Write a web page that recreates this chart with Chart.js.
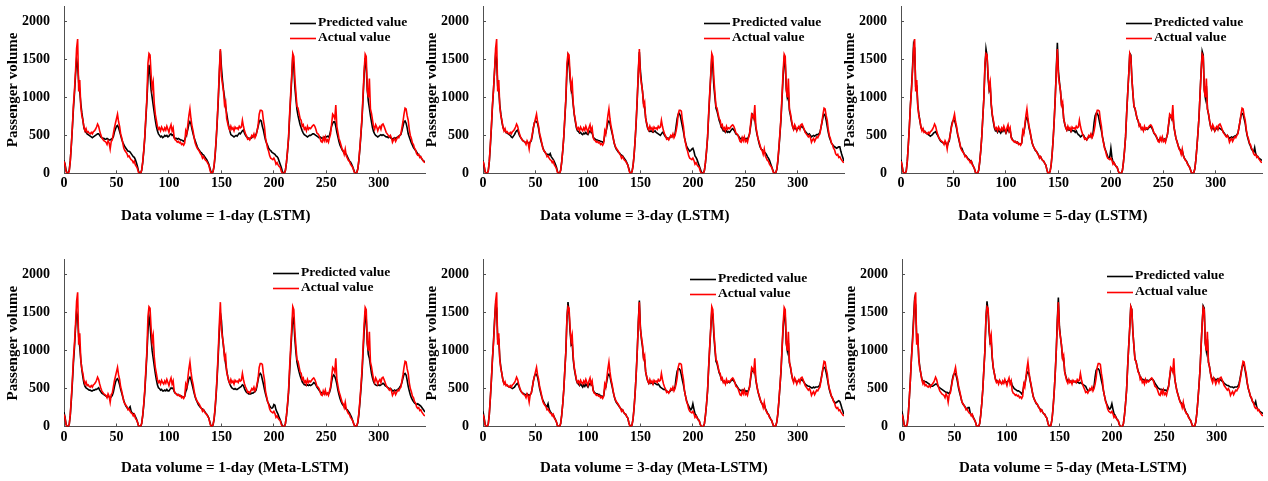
<!DOCTYPE html>
<html>
<head>
<meta charset="utf-8">
<script src="https://cdn.jsdelivr.net/npm/chart.js@4.4.1/dist/chart.umd.min.js"></script>
<style>
  body { margin: 0; background: #fff; width: 1268px; height: 481px; position: relative; overflow: hidden; }
  canvas { position: absolute; }
</style>
</head>
<body>
<canvas id="c1" width="430" height="230" style="left:0px;top:0px"></canvas>
<canvas id="c2" width="430" height="230" style="left:419px;top:0px"></canvas>
<canvas id="c3" width="430" height="230" style="left:837px;top:0px"></canvas>
<canvas id="c4" width="430" height="230" style="left:0px;top:250px"></canvas>
<canvas id="c5" width="430" height="230" style="left:419px;top:250px"></canvas>
<canvas id="c6" width="430" height="230" style="left:838px;top:250px"></canvas>
<script>
// observed passenger volume (same in every panel)
const actual = [
  160,110,20,0,0,30,160,380,620,900,
  1100,1350,1650,1770,1080,1230,880,760,700,610,
  560,590,540,550,530,520,540,520,550,560,
  580,610,650,620,560,510,470,450,430,420,
  410,380,430,400,320,420,440,520,600,660,
  720,780,680,620,520,470,400,330,300,280,
  260,220,230,200,180,170,140,160,110,90,
  60,10,0,0,40,150,300,490,750,1000,
  1450,1580,1560,1300,1120,1200,920,780,700,620,
  580,600,560,610,580,560,600,570,620,580,
  540,600,640,560,600,470,440,430,410,420,
  400,410,380,390,370,400,560,520,640,760,
  850,720,620,560,470,400,360,330,310,290,
  260,240,200,220,190,170,160,130,110,50,
  0,0,20,100,250,450,700,1000,1350,1640,
  1280,1180,1080,900,940,720,660,600,570,620,
  580,600,560,610,590,600,580,620,600,610,
  700,620,560,520,490,450,460,440,470,500,
  480,520,470,500,560,640,780,830,830,820,
  700,620,470,400,330,290,230,200,190,180,
  200,170,120,140,110,90,80,30,0,0,
  0,40,150,300,480,780,1050,1300,1580,1540,
  1250,1060,880,860,790,720,700,620,640,580,
  600,560,620,580,600,590,610,630,640,620,
  580,530,520,500,460,420,410,470,430,480,
  420,440,410,470,520,650,780,760,720,900,
  620,540,460,420,370,320,300,250,320,230,
  200,170,160,120,100,80,40,0,0,10,
  60,180,350,540,750,1050,1350,1570,1540,1100,
  1000,1250,850,790,700,620,580,640,610,560,
  600,620,580,640,650,620,580,540,520,500,
  480,500,470,410,440,460,420,450,480,470,
  500,520,600,680,780,860,850,760,700,580,
  500,460,400,380,330,310,260,240,250,210,
  220,190,170,150,140
];

const predLstm1 = [
  170,120,40,0,0,40,170,370,600,860,
  1060,1300,1500,1420,1200,1080,920,800,700,600,
  560,540,520,510,500,490,480,470,480,490,
  500,510,520,520,500,480,470,460,460,450,
  450,460,450,440,440,450,460,480,540,580,
  620,630,600,550,500,450,410,380,350,330,
  310,290,290,280,260,240,220,210,180,140,
  90,30,0,0,40,140,290,470,720,960,
  1250,1430,1300,1100,1000,900,800,700,620,560,
  520,500,480,490,470,480,500,490,500,480,
  490,510,520,500,510,470,460,460,450,460,
  450,440,440,430,420,440,480,520,580,650,
  680,650,580,520,470,430,390,350,320,300,
  280,270,250,240,220,200,180,150,120,70,
  20,0,20,90,230,430,680,960,1300,1620,
  1400,1230,1100,1000,880,790,700,620,560,510,
  500,490,480,490,500,490,510,530,520,540,
  560,570,530,500,480,470,460,460,460,470,
  480,490,500,510,560,620,680,700,690,620,
  570,500,440,400,370,330,310,300,280,270,
  260,250,230,220,200,160,120,80,30,0,
  0,40,140,290,460,740,1000,1250,1540,1400,
  1140,980,840,760,700,640,600,560,530,510,
  500,490,480,490,500,500,510,520,520,510,
  500,490,480,470,480,470,460,470,480,470,
  480,490,480,500,560,620,660,680,680,620,
  540,480,420,370,340,310,290,270,260,250,
  220,190,160,150,120,90,50,10,0,10,
  60,170,330,520,720,1000,1300,1520,1400,1100,
  950,860,760,680,600,550,520,500,490,480,
  490,500,510,500,510,500,490,480,480,470,
  480,470,460,450,460,470,460,470,480,490,
  500,510,560,620,680,690,660,600,520,480,
  440,400,370,340,320,300,280,260,240,230,
  210,190,170,160,150
];

const predLstm3 = [
  170,100,20,0,0,30,150,360,600,880,
  1100,1350,1560,1500,1150,1100,900,780,680,610,
  570,560,540,530,520,510,500,480,470,490,
  510,540,560,570,530,490,470,450,430,420,
  410,400,410,400,390,410,430,500,600,670,
  690,680,660,590,500,440,390,340,300,280,
  260,250,250,240,260,220,200,180,150,120,
  80,20,0,0,40,150,300,480,730,980,
  1350,1530,1450,1250,1100,1050,900,770,680,600,
  560,550,530,540,520,510,530,520,540,520,
  510,540,560,540,530,480,460,450,440,440,
  430,430,420,420,410,420,500,530,600,670,
  690,660,590,530,470,400,350,320,300,280,
  270,250,240,230,210,190,170,140,110,60,
  10,0,20,100,240,440,680,980,1320,1600,
  1350,1200,1080,920,870,730,650,590,560,550,
  560,550,540,550,560,540,530,520,510,500,
  520,540,530,500,480,470,460,460,470,490,
  480,500,490,520,620,720,780,790,760,690,
  620,550,470,410,360,330,310,290,300,320,
  330,290,230,210,180,140,100,60,20,0,
  0,40,140,290,470,750,1020,1270,1520,1400,
  1150,1000,860,820,760,700,660,610,590,560,
  560,540,560,540,550,540,560,580,590,570,
  550,520,510,500,480,460,450,470,460,470,
  450,460,450,480,520,620,720,770,740,720,
  600,520,460,400,350,320,310,290,280,270,
  250,220,200,170,130,90,50,10,0,10,
  50,160,330,520,720,1000,1280,1500,1450,1120,
  1000,1050,830,760,680,620,580,600,590,570,
  590,600,590,610,620,600,580,550,540,520,
  510,520,500,480,490,500,490,500,510,510,
  520,540,600,670,740,780,770,700,620,540,
  480,440,400,380,360,350,340,330,340,350,
  350,290,240,200,160
];

const predLstm5 = [
  180,100,20,0,0,30,160,380,620,900,
  1120,1400,1700,1650,1150,1150,900,780,690,610,
  570,580,550,550,530,520,510,500,490,500,
  510,530,540,550,520,500,470,440,420,410,
  400,390,410,390,360,400,430,520,620,680,
  700,700,650,590,510,450,390,330,330,290,
  260,240,230,210,190,180,160,160,120,90,
  60,10,0,0,40,150,300,490,750,1000,
  1400,1640,1550,1250,1100,1150,900,760,680,600,
  560,570,540,570,550,530,560,550,580,560,
  530,560,590,550,570,480,450,430,420,420,
  400,410,390,390,380,400,520,530,620,720,
  740,690,600,540,470,400,360,330,300,290,
  270,240,210,220,190,170,160,130,110,50,
  0,0,20,100,250,450,700,1000,1380,1720,
  1350,1200,1080,900,900,720,650,600,570,600,
  570,580,550,570,560,560,540,560,530,510,
  500,480,490,510,500,470,460,440,460,490,
  480,510,480,530,670,760,790,790,760,690,
  620,560,480,410,340,300,260,220,200,220,
  330,210,150,140,110,90,80,30,0,0,
  0,40,150,300,480,780,1050,1300,1580,1560,
  1250,1050,880,850,780,720,690,630,620,590,
  590,570,600,580,590,580,600,610,620,600,
  570,530,510,490,460,440,430,460,440,470,
  430,450,430,470,520,640,740,760,720,780,
  620,540,460,420,370,330,310,270,300,240,
  200,180,160,130,100,80,40,0,0,10,
  60,180,350,540,750,1050,1350,1610,1560,1100,
  1000,1150,850,780,690,620,580,610,590,560,
  580,600,580,600,590,580,570,550,530,510,
  490,500,480,460,470,480,470,480,490,490,
  510,530,600,680,760,790,780,720,660,560,
  490,440,390,360,320,300,280,340,260,230,
  220,200,190,180,170
];

const predMeta1 = [
  190,120,30,0,0,30,150,350,580,840,
  1050,1300,1510,1450,1180,1050,880,750,650,570,
  530,510,500,490,480,480,470,470,480,480,
  490,490,500,510,480,460,440,430,420,410,
  400,390,400,390,380,390,410,450,520,580,
  620,630,600,550,490,440,390,340,300,270,
  250,230,240,260,200,180,170,160,130,100,
  60,10,0,0,40,140,280,460,700,950,
  1250,1450,1350,1150,1000,900,800,700,620,550,
  510,500,480,490,470,470,480,470,490,470,
  470,490,510,500,510,460,440,430,420,420,
  410,400,400,390,380,400,460,500,570,630,
  650,620,560,500,440,390,350,320,290,270,
  250,240,230,220,200,180,160,140,110,60,
  10,0,20,90,230,420,660,940,1250,1500,
  1400,1180,1050,930,830,740,660,600,560,530,
  510,500,490,500,490,490,500,510,520,530,
  550,540,500,470,450,440,430,430,430,440,
  440,450,460,480,540,620,680,700,680,620,
  560,490,430,380,330,300,270,250,240,250,
  290,280,220,190,160,120,90,50,10,0,
  0,40,140,280,450,720,980,1220,1450,1400,
  1150,980,850,780,720,670,630,590,570,550,
  550,540,550,540,550,540,550,560,580,570,
  550,520,500,480,460,450,440,440,430,440,
  430,440,430,450,500,590,660,680,660,620,
  560,480,420,370,330,300,280,260,250,230,
  220,200,180,150,120,80,40,10,0,10,
  50,160,320,500,700,980,1250,1470,1420,1100,
  950,900,800,700,640,590,560,550,540,540,
  550,540,550,560,570,560,540,530,520,510,
  500,500,490,470,470,480,470,480,490,500,
  520,540,580,640,690,700,680,610,530,470,
  420,380,350,330,310,300,290,300,290,280,
  270,250,230,210,190
];

const predMeta3 = [
  200,120,30,0,0,30,160,370,610,880,
  1120,1400,1600,1560,1150,1150,900,780,690,610,
  570,560,550,540,530,520,520,510,500,510,
  520,540,560,570,540,500,470,450,440,430,
  420,420,430,420,410,420,440,510,600,660,
  690,690,650,580,500,440,390,350,320,290,
  270,260,300,230,200,180,160,150,120,90,
  60,10,0,0,40,150,300,490,750,1000,
  1420,1640,1500,1250,1080,1100,880,760,680,610,
  570,560,540,560,540,520,550,530,560,540,
  520,550,570,550,560,480,450,440,430,430,
  420,420,400,400,390,410,500,520,600,670,
  690,660,590,530,460,400,350,320,300,280,
  260,240,220,220,190,170,160,130,110,50,
  10,0,20,100,250,450,700,1000,1370,1660,
  1300,1150,1050,900,880,720,650,600,570,590,
  570,580,560,580,570,560,550,560,540,520,
  510,500,490,490,480,470,460,450,460,480,
  480,500,490,520,640,730,760,760,740,680,
  610,550,470,400,340,300,270,240,220,240,
  300,230,170,150,120,90,80,30,0,0,
  0,40,150,290,470,760,1030,1280,1520,1480,
  1200,1020,860,830,770,710,680,630,610,590,
  590,570,590,580,590,580,600,610,620,600,
  580,550,530,510,490,480,470,480,470,490,
  460,470,460,480,520,630,720,740,720,740,
  610,530,460,410,360,320,300,270,290,240,
  210,180,160,130,100,80,40,0,0,10,
  60,170,340,530,730,1020,1300,1470,1450,1100,
  1000,1100,840,780,690,630,600,620,600,580,
  590,610,600,610,620,600,580,560,550,540,
  530,530,520,510,510,520,510,520,520,520,
  530,550,610,690,760,780,770,710,640,560,
  490,440,400,370,340,320,310,320,330,340,
  330,290,240,200,160
];

const predMeta5 = [
  200,120,30,0,0,30,160,380,620,900,
  1150,1420,1670,1600,1150,1180,900,780,690,620,
  600,600,590,590,580,570,560,540,530,530,
  540,550,560,560,540,520,510,500,490,480,
  470,460,450,450,440,440,460,530,620,680,
  700,700,650,580,500,440,390,330,300,280,
  260,240,230,250,250,180,160,150,120,90,
  60,10,0,0,40,150,300,490,750,1000,
  1420,1650,1520,1250,1100,1120,900,770,700,630,
  600,600,580,600,580,570,590,580,600,590,
  580,600,610,590,600,540,520,500,490,480,
  470,470,460,450,430,450,530,550,630,700,
  720,690,610,540,470,400,360,330,300,290,
  260,240,220,220,190,170,160,130,110,50,
  10,0,20,100,250,450,700,1000,1400,1700,
  1320,1180,1060,900,900,730,670,620,600,610,
  590,600,580,600,590,590,580,590,580,570,
  580,570,560,550,540,530,500,480,470,480,
  490,500,490,530,650,740,760,760,740,680,
  610,550,470,400,340,300,270,240,230,250,
  300,230,170,150,120,90,80,30,0,0,
  0,40,150,300,480,780,1050,1300,1580,1540,
  1250,1060,890,860,790,730,700,650,640,620,
  620,600,620,600,610,600,610,620,630,620,
  600,570,550,530,510,500,490,490,480,490,
  480,480,470,490,530,640,740,760,740,760,
  620,540,470,420,370,330,310,280,300,250,
  210,180,160,130,100,80,40,0,0,10,
  60,180,350,540,750,1050,1350,1590,1560,1100,
  1000,1150,850,790,700,640,620,640,630,610,
  620,630,610,620,610,600,590,570,560,550,
  540,540,530,520,520,520,510,520,520,520,
  530,560,620,700,780,820,810,740,660,570,
  500,450,400,370,330,310,290,330,260,230,
  220,200,190,180,170
];

const panelTitles = [
  'Data volume = 1-day (LSTM)',
  'Data volume = 3-day (LSTM)',
  'Data volume = 5-day (LSTM)',
  'Data volume = 1-day (Meta-LSTM)',
  'Data volume = 3-day (Meta-LSTM)',
  'Data volume = 5-day (Meta-LSTM)'
];
const legendLabels = ['Predicted value', 'Actual value'];
const yTickValues = [0, 500, 1000, 1500, 2000];
const xTickValues = [0, 50, 100, 150, 200, 250, 300];
const steps = actual.map((v, i) => i);

const serif = "'Liberation Serif', 'DejaVu Serif', serif";
const axisColor = '#505050';

// legend + left-aligned axis caption, drawn inside each panel
const panelText = {
  id: 'panelText',
  afterDraw(chart, args, opts) {
    const ctx = chart.ctx;
    const area = chart.chartArea;
    ctx.save();
    ctx.font = 'bold 13.5px ' + serif;
    ctx.textBaseline = 'middle';
    ctx.textAlign = 'left';
    const rows = [chart.data.datasets[1], chart.data.datasets[0]];
    rows.forEach(function(ds, i) {
      const y = opts.legendY[i];
      ctx.strokeStyle = ds.borderColor;
      ctx.lineWidth = 1.6;
      ctx.beginPath();
      ctx.moveTo(opts.legendX, y + 0.5);
      ctx.lineTo(opts.legendX + 26, y + 0.5);
      ctx.stroke();
      ctx.fillStyle = '#000';
      ctx.fillText(ds.label, opts.legendX + 28, y);
    });
    ctx.font = 'bold 15px ' + serif;
    ctx.fillText(opts.caption, area.left + 57, opts.captionY);
    ctx.restore();
  }
};

function makeChart(canvasId, predicted, caption, box) {
  return new Chart(document.getElementById(canvasId), {
    type: 'line',
    data: {
      labels: steps,
      datasets: [
        { label: legendLabels[1], data: actual, borderColor: '#ff0000', borderWidth: 1.6, pointRadius: 0, tension: 0 },
        { label: legendLabels[0], data: predicted, borderColor: '#000000', borderWidth: 1.6, pointRadius: 0, tension: 0 }
      ]
    },
    plugins: [panelText],
    options: {
      responsive: false,
      animation: false,
      devicePixelRatio: 1,
      layout: { padding: { top: box.padTop, right: 5, bottom: 0, left: 0 } },
      plugins: {
        legend: { display: false },
        tooltip: { enabled: false },
        panelText: { legendX: box.legendX, legendY: box.legendY, caption: caption, captionY: box.captionY }
      },
      scales: {
        x: {
          type: 'linear',
          min: 0,
          max: 344,
          afterFit: function(s) { s.height = box.xHeight; s.paddingLeft = 0; s.paddingRight = 0; },
          afterBuildTicks: function(s) { s.ticks = xTickValues.map(function(v) { return { value: v }; }); },
          grid: { drawOnChartArea: false, drawTicks: true, tickLength: -3, color: axisColor },
          border: { color: axisColor, width: 1 },
          ticks: { font: { family: serif, size: 14, weight: 'bold' }, color: '#000', padding: 5, maxRotation: 0,
                   callback: function(v) { return String(v); } }
        },
        y: {
          min: 0,
          max: 2200,
          afterFit: function(s) { s.width = 64; s.paddingTop = 0; s.paddingBottom = 0; },
          afterBuildTicks: function(s) { s.ticks = yTickValues.map(function(v) { return { value: v }; }); },
          grid: { drawOnChartArea: false, drawTicks: true, tickLength: -3, color: axisColor },
          border: { color: axisColor, width: 1 },
          ticks: { font: { family: serif, size: 14, weight: 'bold' }, color: '#000', padding: 17,
                   callback: function(v) { return String(v); } },
          title: { display: true, text: 'Passenger volume', color: '#000',
                   font: { family: serif, size: 15, weight: 'bold' }, padding: { top: 4, bottom: 0 } }
        }
      }
    }
  });
}

const topBox = { padTop: 6.5, xHeight: 56.7, captionY: 216 };
const bottomBox = { padTop: 9.7, xHeight: 53.5, captionY: 218.5 };

makeChart('c1', predLstm1, panelTitles[0], Object.assign({ legendX: 290, legendY: [23, 38] }, topBox));
makeChart('c2', predLstm3, panelTitles[1], Object.assign({ legendX: 285, legendY: [23, 38] }, topBox));
makeChart('c3', predLstm5, panelTitles[2], Object.assign({ legendX: 289, legendY: [23, 38] }, topBox));
makeChart('c4', predMeta1, panelTitles[3], Object.assign({ legendX: 273, legendY: [23, 38] }, bottomBox));
makeChart('c5', predMeta3, panelTitles[4], Object.assign({ legendX: 271, legendY: [29, 44] }, bottomBox));
makeChart('c6', predMeta5, panelTitles[5], Object.assign({ legendX: 269, legendY: [26, 42] }, bottomBox));
</script>
</body>
</html>
